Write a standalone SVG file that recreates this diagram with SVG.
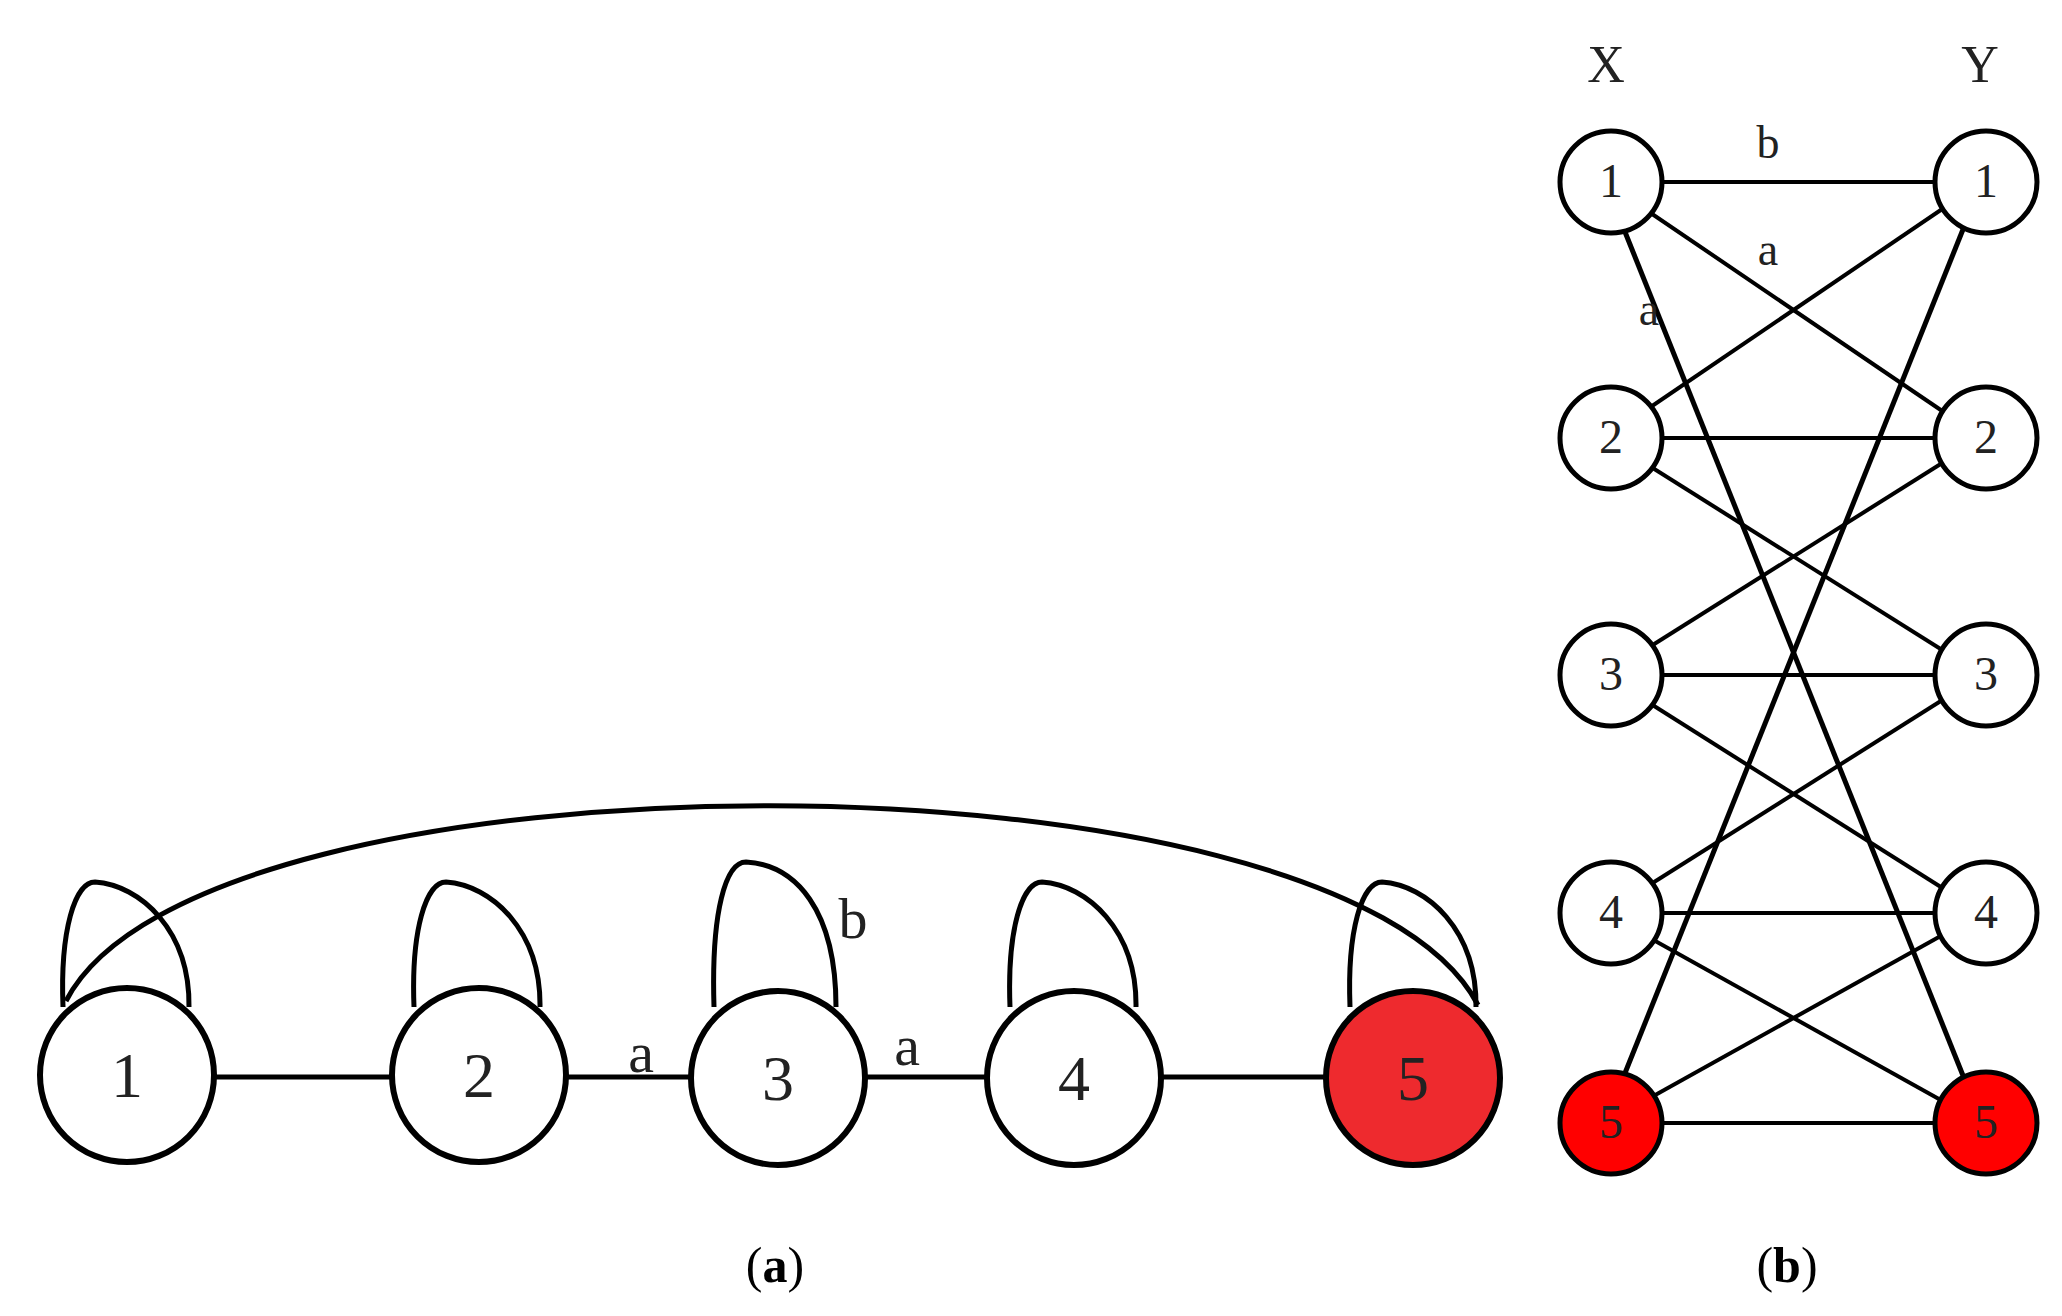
<svg xmlns="http://www.w3.org/2000/svg" width="2062" height="1316" viewBox="0 0 2062 1316">
<style>
.n{fill:#fff;stroke:#000;stroke-width:6}
.m{fill:#fff;stroke:#000;stroke-width:5}
.t{font-family:"Liberation Serif",serif;text-anchor:middle;fill:#222}
.e{stroke:#000;stroke-width:5;fill:none}
.f{stroke:#000;stroke-width:4;fill:none}
</style>
<rect width="2062" height="1316" fill="#fff"/>
<g id="connectors">
<path class="e" d="M66,1001 C200,740 1340,740 1478,1005"/>
<path class="e" d="M63,1007 C60,930 75,882 95,882 C140,885 190,930 189,1007"/>
<path class="e" d="M414,1007 C411,930 426,882 446,882 C491,885 541,930 540,1007"/>
<path class="e" d="M714,1007 C711,910 726,862 746,862 C796,865 836,910 836,1007"/>
<path class="e" d="M1010,1007 C1007,930 1022,882 1042,882 C1087,885 1137,930 1136,1007"/>
<path class="e" d="M1350,1007 C1347,930 1362,882 1382,882 C1427,885 1477,930 1476,1007"/>
<line class="e" x1="215" y1="1077" x2="391" y2="1077"/>
<line class="e" x1="567" y1="1077" x2="690" y2="1077"/>
<line class="e" x1="866" y1="1077" x2="986" y2="1077"/>
<line class="e" x1="1162" y1="1077" x2="1324" y2="1077"/>
<g>
<line class="f" x1="1605" y1="182" x2="1982" y2="182"/>
<line class="f" x1="1605" y1="182" x2="1982" y2="438"/>
<line class="e" x1="1605" y1="182" x2="1982" y2="1123"/>
<line class="f" x1="1605" y1="438" x2="1982" y2="182"/>
<line class="f" x1="1605" y1="438" x2="1982" y2="438"/>
<line class="f" x1="1605" y1="438" x2="1982" y2="675"/>
<line class="f" x1="1605" y1="675" x2="1982" y2="438"/>
<line class="f" x1="1605" y1="675" x2="1982" y2="675"/>
<line class="f" x1="1605" y1="675" x2="1982" y2="913"/>
<line class="f" x1="1605" y1="913" x2="1982" y2="675"/>
<line class="f" x1="1605" y1="913" x2="1982" y2="913"/>
<line class="f" x1="1605" y1="913" x2="1982" y2="1123"/>
<line class="e" x1="1605" y1="1123" x2="1982" y2="182"/>
<line class="f" x1="1605" y1="1123" x2="1982" y2="913"/>
<line class="f" x1="1605" y1="1123" x2="1982" y2="1123"/>
</g>
</g>
<g id="a1"><circle class="n" cx="127" cy="1075" r="87"/><text class="t" x="127" y="1097" font-size="64">1</text></g>
<g id="a2"><circle class="n" cx="479" cy="1075" r="87"/><text class="t" x="479" y="1097" font-size="64">2</text></g>
<g id="a3"><circle class="n" cx="778" cy="1078" r="87"/><text class="t" x="778" y="1100" font-size="64">3</text></g>
<g id="a4"><circle class="n" cx="1074" cy="1078" r="87"/><text class="t" x="1074" y="1100" font-size="64">4</text></g>
<g id="a5"><circle class="n" cx="1413" cy="1078" r="87" style="fill:#ee2a2e"/><text class="t" x="1413" y="1100" font-size="64">5</text></g>
<g id="labels-a">
<text class="t" x="641" y="1072" font-size="58">a</text>
<text class="t" x="907" y="1065" font-size="58">a</text>
<text class="t" x="853" y="938" font-size="58">b</text>
<text class="t" x="775" y="1282" font-size="50" style="fill:#000">(<tspan font-weight="bold">a</tspan>)</text>
</g>
<g id="b-nodes">
<g id="x1"><circle class="m" cx="1611" cy="182" r="51"/><text class="t" x="1611" y="197" font-size="48">1</text></g>
<g id="x2"><circle class="m" cx="1611" cy="438" r="51"/><text class="t" x="1611" y="453" font-size="48">2</text></g>
<g id="x3"><circle class="m" cx="1611" cy="675" r="51"/><text class="t" x="1611" y="690" font-size="48">3</text></g>
<g id="x4"><circle class="m" cx="1611" cy="913" r="51"/><text class="t" x="1611" y="928" font-size="48">4</text></g>
<g id="x5"><circle class="m" cx="1611" cy="1123" r="51" style="fill:#ff0000"/><text class="t" x="1611" y="1138" font-size="48">5</text></g>
<g id="y1"><circle class="m" cx="1986" cy="182" r="51"/><text class="t" x="1986" y="197" font-size="48">1</text></g>
<g id="y2"><circle class="m" cx="1986" cy="438" r="51"/><text class="t" x="1986" y="453" font-size="48">2</text></g>
<g id="y3"><circle class="m" cx="1986" cy="675" r="51"/><text class="t" x="1986" y="690" font-size="48">3</text></g>
<g id="y4"><circle class="m" cx="1986" cy="913" r="51"/><text class="t" x="1986" y="928" font-size="48">4</text></g>
<g id="y5"><circle class="m" cx="1986" cy="1123" r="51" style="fill:#ff0000"/><text class="t" x="1986" y="1138" font-size="48">5</text></g>
</g>
<g id="labels-b">
<text class="t" x="1606" y="82" font-size="52">X</text>
<text class="t" x="1980" y="82" font-size="52">Y</text>
<text class="t" x="1768" y="158" font-size="46">b</text>
<text class="t" x="1768" y="265" font-size="46">a</text>
<text class="t" x="1649" y="325" font-size="46">a</text>
<text class="t" x="1787" y="1282" font-size="50" style="fill:#000">(<tspan font-weight="bold">b</tspan>)</text>
</g>
</svg>
